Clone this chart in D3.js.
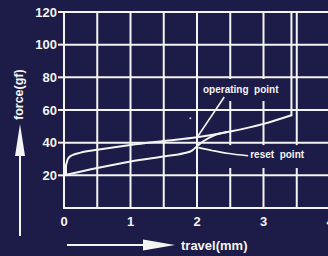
<!DOCTYPE html>
<html><head><meta charset="utf-8">
<script src="https://cdn.jsdelivr.net/npm/d3@7"></script>
<style>html,body{margin:0;padding:0;background:#1d1b48;}svg{display:block;}</style>
</head><body>
<svg id="c" width="328" height="256"></svg>
<script>
// ---- data ----
const xTicks = [0, 1, 2, 3, 4];
const yTicks = [20, 40, 60, 80, 100, 120];
const xGrid = [0.5, 1, 1.5, 2, 2.5, 3, 3.5, 4];
const yGrid = [20, 40, 60, 80, 100, 120];
// press (operating) curve: travel(mm), force(gf)
const pressStartX = [0.03, 0.03];          // initial vertical rise
const pressStartY = [20, 26];
const pressX = [0.03, 0.06, 0.12, 0.25, 0.5, 1, 1.5, 2, 2.5, 3, 3.42];
const pressY = [26, 30.2, 32.3, 33.9, 35.6, 38.6, 41, 43.3, 46.8, 51.5, 56.8];
const pressEndX = [3.42, 3.42];            // bottom-out vertical
const pressEndY = [56.8, 120];
// release (reset) curve
const releaseX = [0, 0.5, 1, 1.5, 1.8, 1.93, 2.0, 2.1, 2.25, 2.45];
const releaseY = [20, 24.5, 28.5, 31.6, 33.5, 35.3, 37.8, 41, 44.3, 46.5];
// annotations
const opLeaderX = [2.41, 2.0];
const opLeaderY = [68, 43.2];
const resetLeaderX = [2.02, 2.24, 2.45, 2.77];
const resetLeaderY = [37, 35.1, 33.5, 32.0];
const labels = ["operating  point", "reset  point"];
const xTitle = "travel(mm)";
const yTitle = "force(gf)";

const W = 328, H = 256;
const BG = "#1d1b48", FG = "#f4f4f4";
const FONT = "Liberation Sans, Arial, sans-serif";
const svg = d3.select("#c");
svg.append("rect").attr("width", W).attr("height", H).attr("fill", BG);

const x = d3.scaleLinear().domain([0, 4]).range([64, 330]);
const y = d3.scaleLinear().domain([0, 120]).range([208, 12]);

const g = svg.append("g");
// grid
g.selectAll(".vg").data(xGrid).join("line")
  .attr("x1", d => x(d)).attr("x2", d => x(d))
  .attr("y1", y(120)).attr("y2", y(0))
  .attr("stroke", FG).attr("stroke-width", 2);
g.selectAll(".hg").data(yGrid).join("line")
  .attr("x1", x(0)).attr("x2", x(4))
  .attr("y1", d => y(d)).attr("y2", d => y(d))
  .attr("stroke", FG).attr("stroke-width", 2);
// axes frame
g.append("line").attr("x1", x(0)).attr("x2", x(0)).attr("y1", y(120) - 1).attr("y2", y(0) + 1)
  .attr("stroke", FG).attr("stroke-width", 2);
g.append("line").attr("x1", x(0)).attr("x2", x(4)).attr("y1", y(0)).attr("y2", y(0))
  .attr("stroke", FG).attr("stroke-width", 2);

// label background boxes (cover grid)
g.append("rect").attr("x", x(2.05)).attr("y", y(79)).attr("width", x(3.35) - x(2.05)).attr("height", y(65.5) - y(79)).attr("fill", BG);
g.append("rect").attr("x", x(2.12)).attr("y", y(38.5)).attr("width", x(3.75) - x(2.12)).attr("height", y(24.5) - y(38.5)).attr("fill", BG);

// y ticks + labels
g.selectAll(".yt").data(yTicks).join("line")
  .attr("x1", x(0) - 6).attr("x2", x(0)).attr("y1", d => y(d)).attr("y2", d => y(d))
  .attr("stroke", FG).attr("stroke-width", 2);
g.selectAll(".yl").data(yTicks).join("text")
  .attr("x", x(0) - 7).attr("y", d => y(d) + 4.7)
  .attr("text-anchor", "end").attr("fill", FG)
  .attr("font-family", FONT).attr("font-weight", "bold").attr("font-size", 13)
  .text(d => d);
g.selectAll(".xl").data(xTicks).join("text")
  .attr("x", d => x(d)).attr("y", 225.5)
  .attr("text-anchor", "middle").attr("fill", FG)
  .attr("font-family", FONT).attr("font-weight", "bold").attr("font-size", 13)
  .text(d => d);

// curves
const smooth = d3.line().x(d => x(d[0])).y(d => y(d[1])).curve(d3.curveMonotoneX);
const straight = d3.line().x(d => x(d[0])).y(d => y(d[1]));
const stroke = sel => sel.attr("fill", "none").attr("stroke", FG).attr("stroke-width", 2)
  .attr("stroke-linecap", "round").attr("stroke-linejoin", "round");
g.append("path").attr("d", straight(d3.zip(pressStartX, pressStartY))).call(stroke);
g.append("path").attr("d", smooth(d3.zip(pressX, pressY))).call(stroke);
g.append("path").attr("d", straight(d3.zip(pressEndX, pressEndY))).call(stroke);
g.append("path").attr("d", smooth(d3.zip(releaseX, releaseY))).call(stroke);

// leaders
g.append("path").attr("d", straight(d3.zip(opLeaderX, opLeaderY)))
  .attr("fill", "none").attr("stroke", FG).attr("stroke-width", 1.6);
g.append("path").attr("d", smooth(d3.zip(resetLeaderX, resetLeaderY)))
  .attr("fill", "none").attr("stroke", FG).attr("stroke-width", 1.6);

// annotation labels
g.append("text").attr("x", x(2.09)).attr("y", y(70.7)).attr("fill", FG)
  .attr("font-family", FONT).attr("font-weight", "bold").attr("font-size", 10)
  .style("white-space", "pre").text(labels[0]);
g.append("text").attr("x", x(2.8)).attr("y", y(30.5)).attr("fill", FG)
  .attr("font-family", FONT).attr("font-weight", "bold").attr("font-size", 10)
  .style("white-space", "pre").text(labels[1]);

// stray dot
g.append("circle").attr("cx", x(1.9)).attr("cy", y(55)).attr("r", 1).attr("fill", "#cfcfe0");

// axis arrows
g.append("line").attr("x1", 20).attr("x2", 20).attr("y1", 236).attr("y2", 150).attr("stroke", FG).attr("stroke-width", 2);
g.append("path").attr("d", "M20,124 L25,156 L15,156 Z").attr("fill", FG);
g.append("line").attr("x1", 67).attr("x2", 148).attr("y1", 245).attr("y2", 245).attr("stroke", FG).attr("stroke-width", 2);
g.append("path").attr("d", "M175,245 L143,239.5 L143,250.5 Z").attr("fill", FG);

// axis titles
g.append("text").attr("x", 181).attr("y", 249.5).attr("fill", FG)
  .attr("font-family", FONT).attr("font-weight", "bold").attr("font-size", 13)
  .text(xTitle);
g.append("text").attr("transform", "translate(23,120) rotate(-90)").attr("fill", FG)
  .attr("font-family", FONT).attr("font-weight", "bold").attr("font-size", 12.5)
  .text(yTitle);
</script>
</body></html>
